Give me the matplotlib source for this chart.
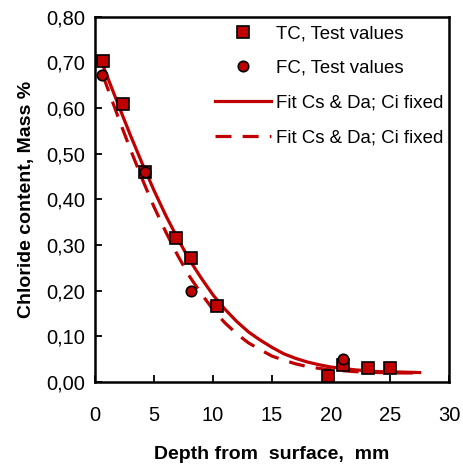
import matplotlib
matplotlib.use("Agg")
import matplotlib.pyplot as plt
from matplotlib.ticker import FuncFormatter, MultipleLocator

plt.rcParams['font.family'] = ['Liberation Sans', 'DejaVu Sans']

RED = "#C00000"

# test values
tc_depth = [0.7, 2.4, 4.2, 6.9, 8.1, 10.3, 19.7, 21.0, 23.1, 25.0]
tc_cl = [0.703, 0.610, 0.460, 0.316, 0.271, 0.166, 0.013, 0.037, 0.031, 0.031]
fc_depth = [0.6, 4.2, 8.1, 21.0]
fc_cl = [0.672, 0.461, 0.200, 0.051]

# fitted curves
fit_depth = [0.7, 2, 3, 4, 5, 6, 7, 8, 9, 10, 11, 12, 13, 14, 15, 16, 17, 18,
             19, 20, 22, 24, 26, 27.5]
fit_tc = [0.692, 0.606, 0.541, 0.479, 0.420, 0.365, 0.315, 0.268, 0.228, 0.191,
          0.160, 0.133, 0.110, 0.092, 0.076, 0.062, 0.052, 0.044, 0.038, 0.033,
          0.027, 0.023, 0.022, 0.021]
fit_fc = [0.670, 0.578, 0.510, 0.445, 0.384, 0.329, 0.278, 0.232, 0.194, 0.159,
          0.130, 0.106, 0.086, 0.071, 0.057, 0.048, 0.040, 0.034, 0.030, 0.027,
          0.023, 0.021, 0.020, 0.020]

fig = plt.figure(figsize=(4.63, 4.66), dpi=100)
ax = fig.add_axes([0.205, 0.180, 0.765, 0.784])

ax.plot(fit_depth, fit_tc, color=RED, lw=2.3, label="Fit Cs & Da; Ci fixed", zorder=2)
ax.plot(fit_depth, fit_fc, color=RED, lw=2.3, ls=(0, (5, 3.5)),
        label="Fit Cs & Da; Ci fixed ", zorder=2)
ax.plot(tc_depth, tc_cl, ls="none", marker="s", ms=8, mfc=RED, mec="black",
        mew=1.2, label="TC, Test values", zorder=3)
ax.plot(fc_depth, fc_cl, ls="none", marker="o", ms=7.5, mfc=RED, mec="black",
        mew=1.2, label="FC, Test values", zorder=4)

ax.set_xlim(0, 30)
ax.set_ylim(0, 0.8)
ax.xaxis.set_major_locator(MultipleLocator(5))
ax.yaxis.set_major_locator(MultipleLocator(0.1))
ax.yaxis.set_major_formatter(FuncFormatter(lambda v, p: f"{v:.2f}".replace(".", ",")))
ax.tick_params(direction="in", length=5, width=1.3, labelsize=14.5, pad=7)
ax.tick_params(axis="x", pad=17)
for s in ax.spines.values():
    s.set_linewidth(1.8)

ax.set_xlabel("Depth from  surface,  mm", fontsize=14, fontweight="bold", labelpad=15)
ax.set_ylabel("Chloride content, Mass %", fontsize=14, fontweight="bold", labelpad=8)

h, l = ax.get_legend_handles_labels()
order = [2, 3, 0, 1]
ax.legend([h[i] for i in order], [l[i] for i in order], loc="upper right",
          bbox_to_anchor=(1.023, 1.0),
          frameon=False, fontsize=13.4, handlelength=3.0, handletextpad=0.3,
          labelspacing=0.95, borderaxespad=0.15, borderpad=0.3)

fig.savefig("out.png", dpi=100)
